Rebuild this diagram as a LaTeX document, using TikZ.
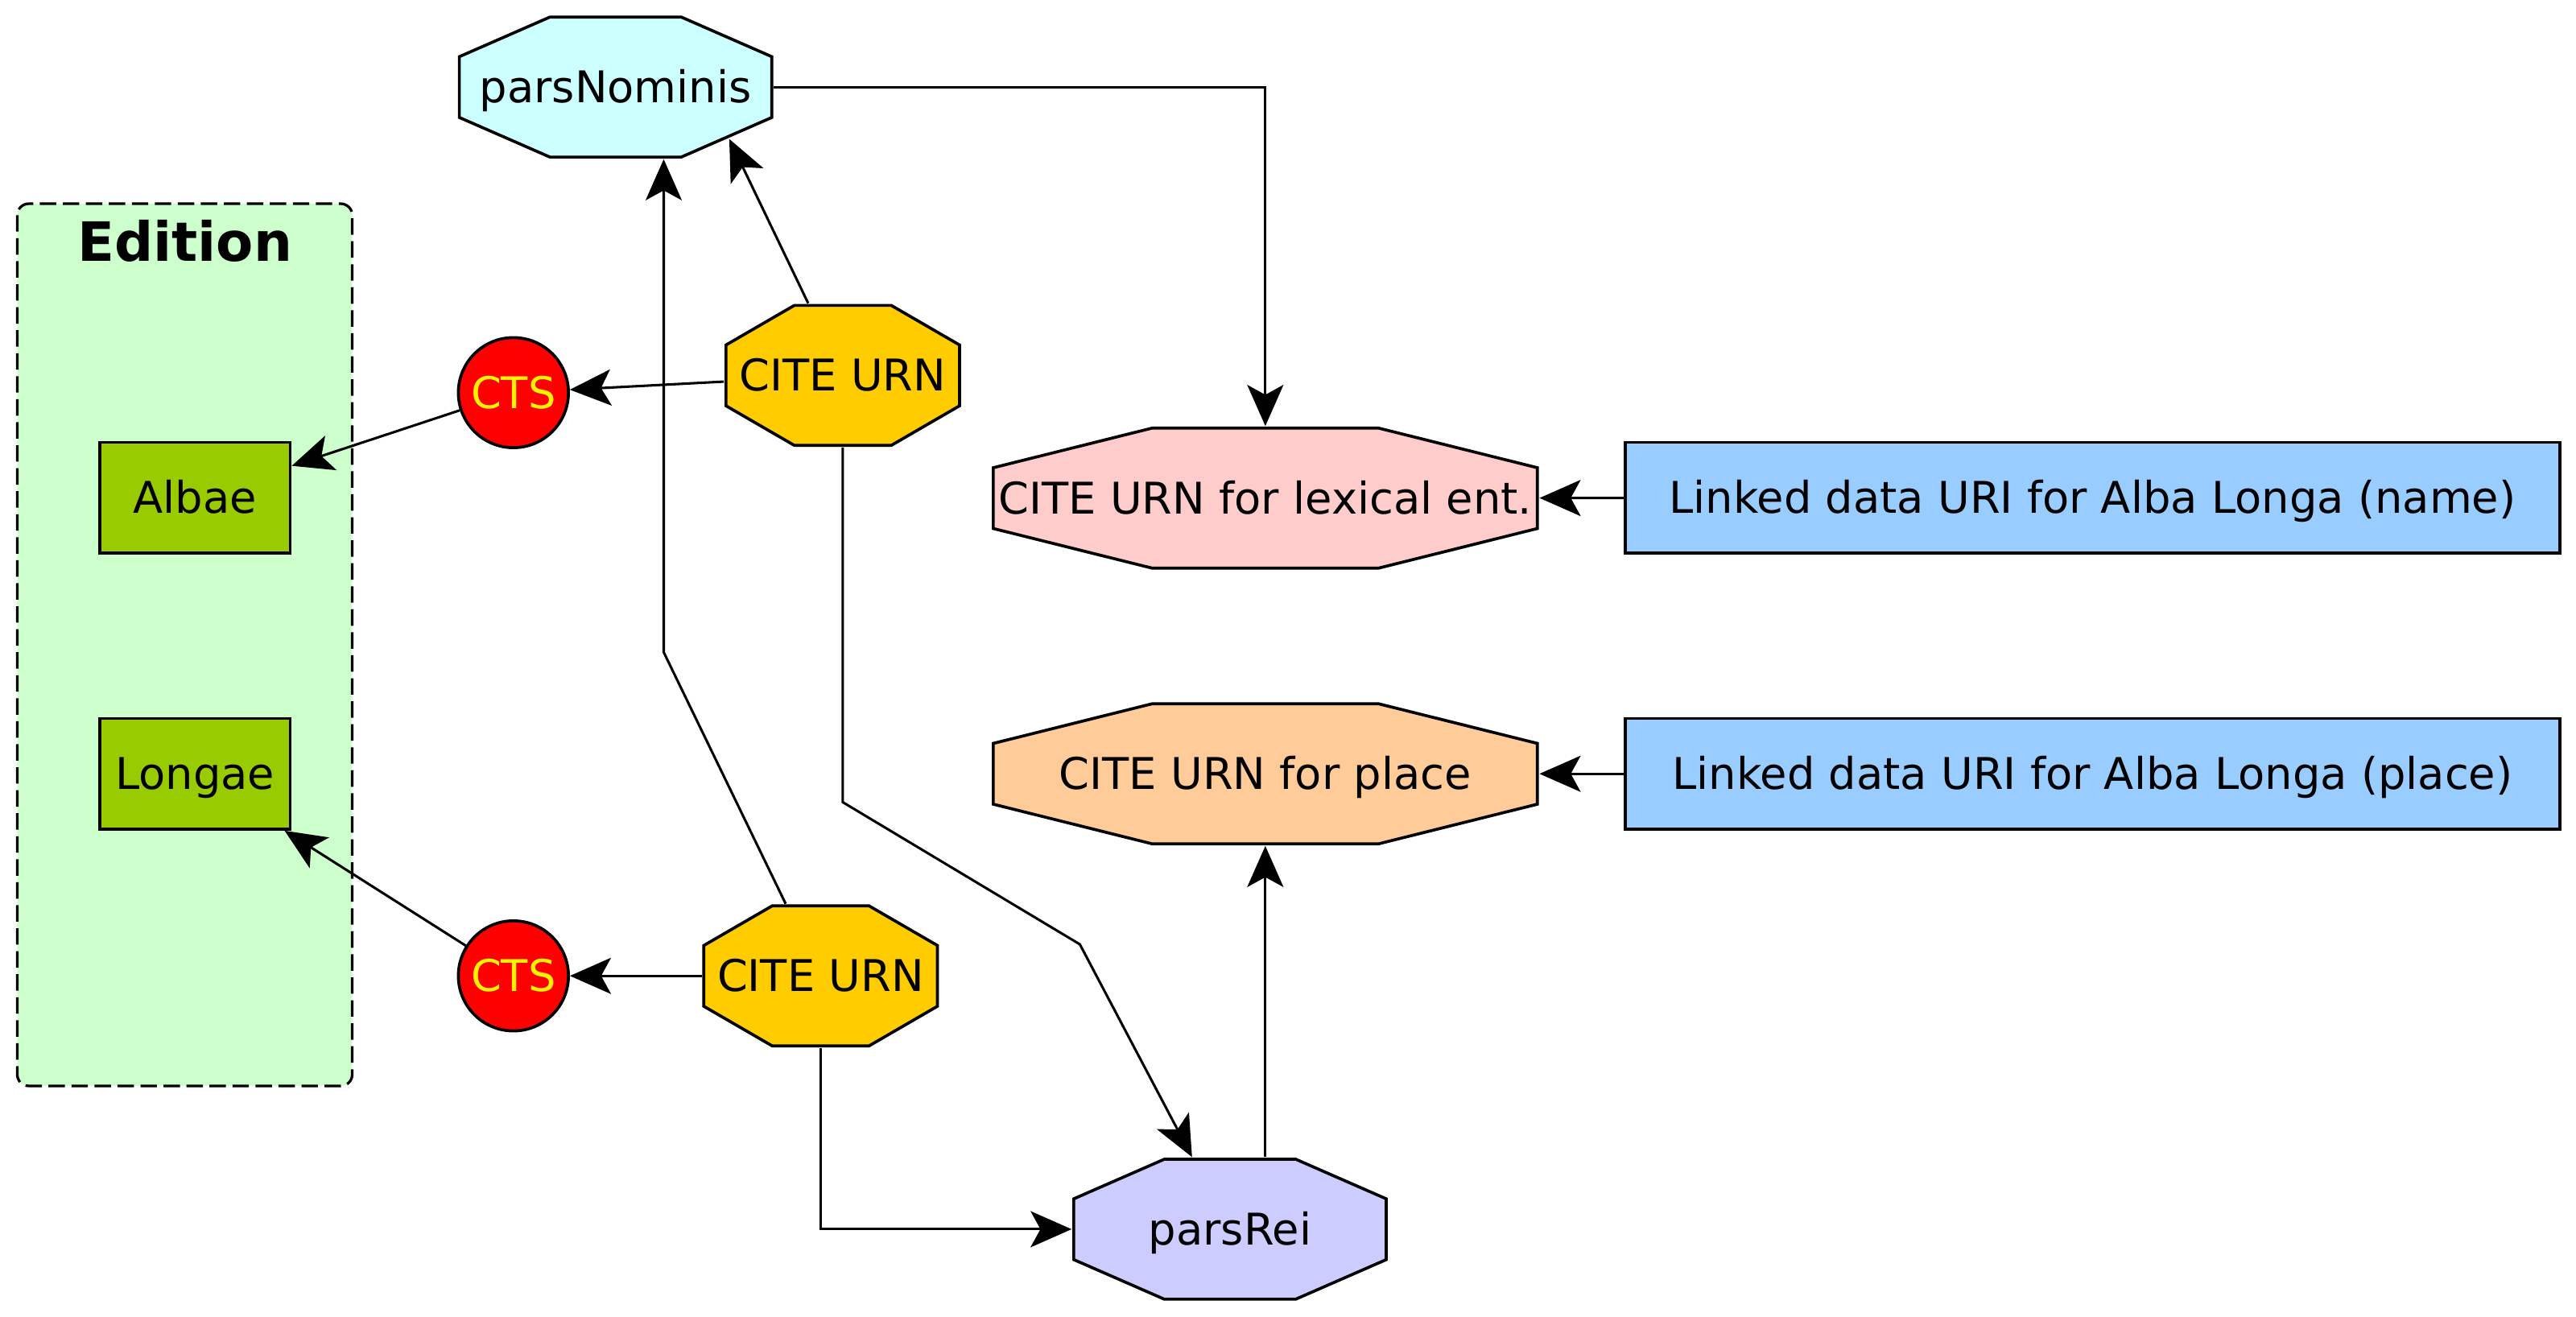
\documentclass[tikz,border=0pt]{standalone}
\usepackage{fontspec}
\setmainfont{DejaVu Sans}
\usetikzlibrary{arrows.meta}

\definecolor{nomen}{HTML}{CCFFFF}
\definecolor{rei}{HTML}{CCCCFF}
\definecolor{urn}{HTML}{FFCC00}
\definecolor{lexent}{HTML}{FFCCCC}
\definecolor{locus}{HTML}{FFCC99}
\definecolor{ldata}{HTML}{99CCFF}
\definecolor{verbum}{HTML}{99CC00}
\definecolor{editio}{HTML}{CCFFCC}

% octagon: width, chamfer along x, fill
\tikzset{
	octa/.style n args={3}{rectangle, inner sep=0pt, minimum width=#1, minimum height=43.5pt,
		path picture={
			\draw [line width=0.9pt, fill=#3]
				([xshift=#2, yshift=-0.45pt]path picture bounding box.north west)
				-- ([xshift=-#2, yshift=-0.45pt]path picture bounding box.north east)
				-- ([xshift=-0.45pt, yshift=-12.5pt]path picture bounding box.north east)
				-- ([xshift=-0.45pt, yshift=12.5pt]path picture bounding box.south east)
				-- ([xshift=-#2, yshift=0.45pt]path picture bounding box.south east)
				-- ([xshift=#2, yshift=0.45pt]path picture bounding box.south west)
				-- ([xshift=0.45pt, yshift=12.5pt]path picture bounding box.south west)
				-- ([xshift=0.45pt, yshift=-12.5pt]path picture bounding box.north west)
				-- cycle;
		}},
	pars/.style={octa={96pt}{28pt}{#1}},
	urnbox/.style={octa={72pt}{21.25pt}{urn}},
	entbox/.style={octa={166.5pt}{48.75pt}{#1}},
	wordbox/.style={rectangle, draw, line width=0.9pt, fill=verbum, minimum width=58pt, minimum height=33.75pt},
	uribox/.style={rectangle, draw, line width=0.9pt, fill=ldata, minimum width=284.5pt, minimum height=33.75pt},
	cts/.style={circle, draw, line width=0.9pt, fill=red, text=yellow, minimum size=33.5pt, inner sep=0pt},
	link/.style={-{Stealth[length=12.5pt, width=11pt, inset=3pt]}, line width=0.75pt}
}

\begin{document}
\begin{tikzpicture}[x=0.5pt, y=-0.5pt, font=\fontsize{13.3}{16}\selectfont,
	every node/.append style={text height=9.5pt, text depth=0pt}]
	\useasboundingbox (0,0) rectangle (1568,801.6);

	% the edition
	\draw [fill=editio, line width=0.8pt, dash pattern=on 5pt off 2pt, rounded corners=3.5pt] (10.5,124) rectangle (214.4,661);
	\node [font=\fontsize{16.5}{20}\selectfont\bfseries, text height=12pt] (edlabel) at (112.5,147) {Edition};
	\node [wordbox] (albae) at (118.7,303) {Albae};
	\node [wordbox] (longae) at (118.7,471) {Longae};

	\node [cts] (cts1) at (312.5,239) {CTS};
	\node [cts] (cts2) at (312.5,594) {CTS};
	\node [urnbox] (urn1) at (513,228.5) {CITE URN};
	\node [urnbox] (urn2) at (499.5,594) {CITE URN};

	\node [pars=nomen] (nominis) at (374.7,53) {parsNominis};
	\node [pars=rei] (rei) at (748.7,748.2) {parsRei};
	\node [entbox=lexent] (lexical) at (770.2,303.2) {CITE URN for lexical ent.};
	\node [entbox=locus] (place) at (770.2,471) {CITE URN for place};
	\node [uribox] (uriname) at (1273.7,303) {Linked data URI for Alba Longa (name)};
	\node [uribox] (uriplace) at (1273.7,471) {Linked data URI for Alba Longa (place)};

	% bends of the long links
	\coordinate (b1) at (513,488.3);
	\coordinate (b2) at (657.3,574.8);
	\coordinate (b3) at (404,397);
	\coordinate (nomcut) at (443.9,84.6);

	\draw [link] (nominis) -| (lexical);
	\draw [link] (urn1) -- (nomcut);
	\draw [link] (urn1) -- (cts1);
	\draw [link] (cts1) -- (albae);
	\draw [link] (urn1) -- (b1) -- (b2) -- (rei);
	\draw [link] (urn2) -- (b3) -- (b3 |- nominis.south);
	\draw [link] (urn2) -- (cts2);
	\draw [link] (cts2) -- (longae);
	\draw [link] (urn2) |- (rei);
	\draw [link] (rei.north -| place.south) -- (place.south);
	\draw [link] (uriname) -- (lexical);
	\draw [link] (uriplace) -- (place);
\end{tikzpicture}
\end{document}
